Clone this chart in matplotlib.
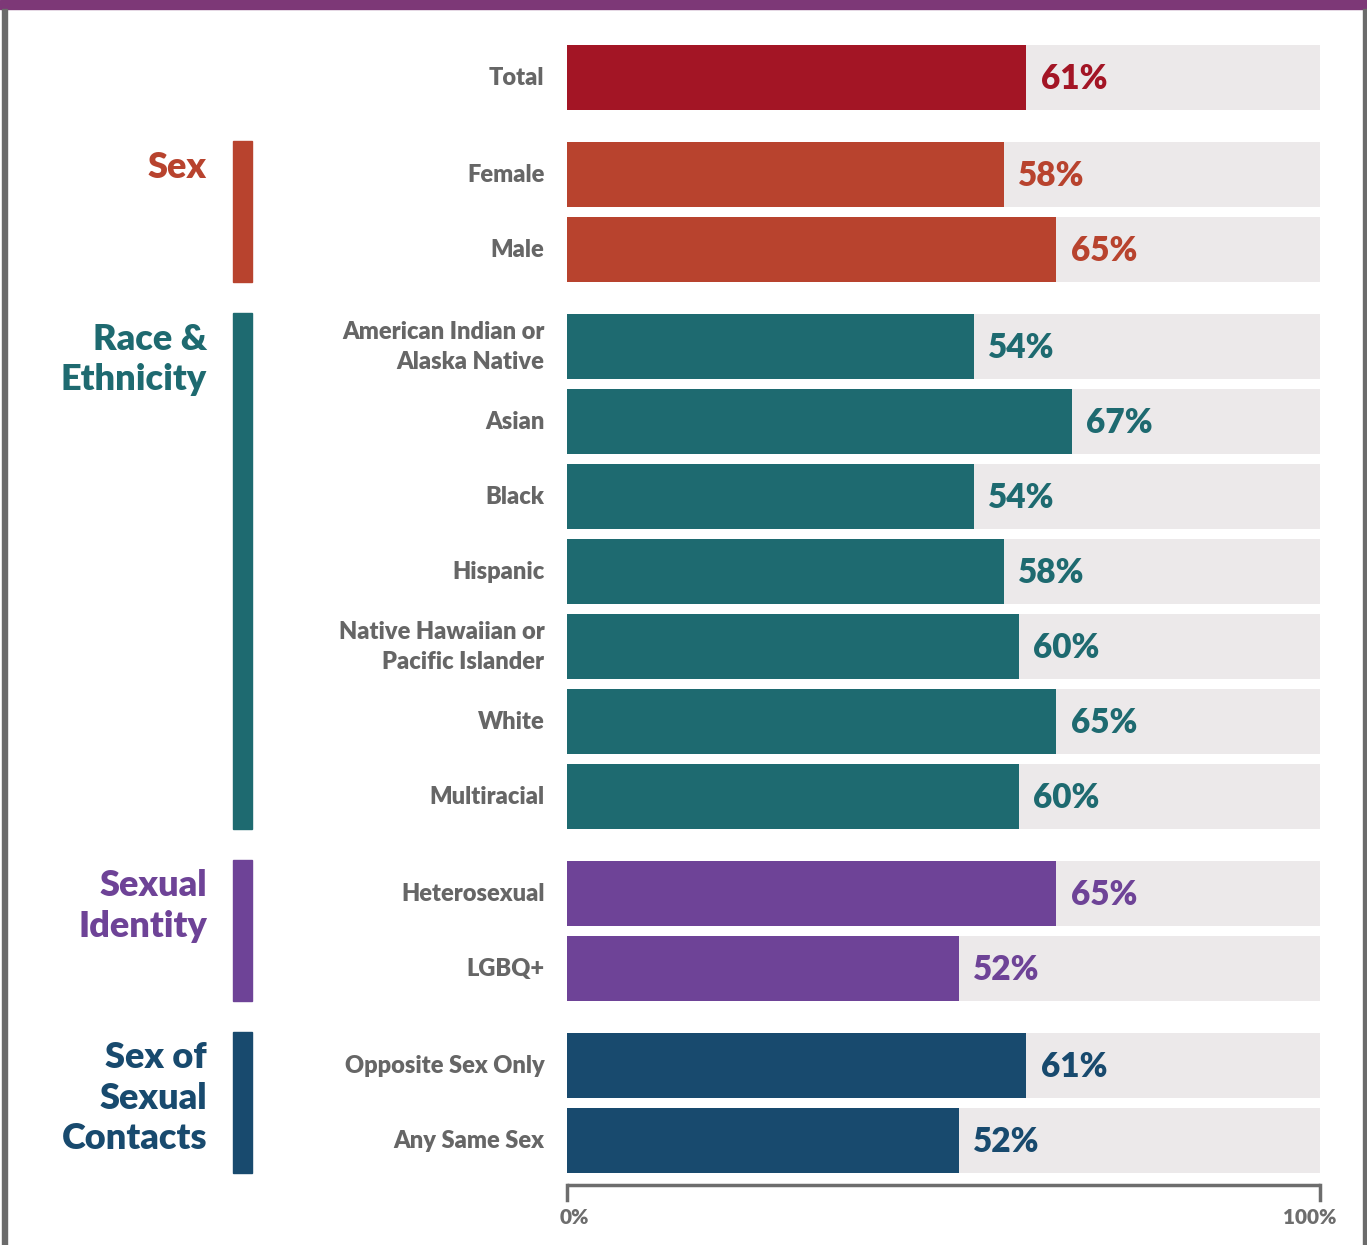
import matplotlib.pyplot as plt
from matplotlib.patches import Rectangle

# data
groups = ["", "Sex", "Race &\nEthnicity", "Sexual\nIdentity", "Sex of\nSexual\nContacts"]
group_colors = ["#A31525", "#B8432E", "#1E6A70", "#6E4397", "#184A6E"]
categories = [
    ["Total"],
    ["Female", "Male"],
    ["American Indian or\nAlaska Native", "Asian", "Black", "Hispanic",
     "Native Hawaiian or\nPacific Islander", "White", "Multiracial"],
    ["Heterosexual", "LGBQ+"],
    ["Opposite Sex Only", "Any Same Sex"],
]
values = [
    [61],
    [58, 65],
    [54, 67, 54, 58, 60, 65, 60],
    [65, 52],
    [61, 52],
]

W, H = 1367, 1245
fig = plt.figure(figsize=(W / 100, H / 100), dpi=100)
plt.rcParams['font.family'] = ['Lato', 'DejaVu Sans']

# background frame
bg = fig.add_axes([0, 0, 1, 1])
bg.set_xlim(0, W)
bg.set_ylim(H, 0)
bg.axis('off')
bg.add_patch(Rectangle((0, 0), W, 9, color="#7D3877"))
bg.add_patch(Rectangle((2, 9), 5, H, color="#6B6B6B"))
bg.add_patch(Rectangle((1363, 9), 4, H, color="#6B6B6B"))

# bar axes: x 0..100 mapped to pixels 567..1320, y in pixel rows
x0, x1 = 567, 1320
ax = fig.add_axes([x0 / W, 0, (x1 - x0) / W, 1])
ax.set_xlim(0, 100)
ax.set_ylim(H, 0)
ax.axis('off')

gray = "#666666"
bar_h = 65
step = 75
gap = 22
y = 77
for gi in range(len(groups)):
    col = group_colors[gi]
    ys = []
    for cat, v in zip(categories[gi], values[gi]):
        ax.barh(y, 100, height=bar_h, color="#ECE9EA")
        ax.barh(y, v, height=bar_h, color=col)
        ax.text(v + 1.9, y + 2, f"{v}%", color=col, fontsize=24, fontweight='heavy',
                va='center', ha='left')
        ax.text(-3, y + 1, cat, color=gray, fontsize=17, fontweight='heavy',
                va='center', ha='right', linespacing=1.4)
        ys.append(y)
        y += step
    y += gap
    if groups[gi]:
        top = ys[0] - bar_h / 2 - 1
        bot = ys[-1] + bar_h / 2
        bg.add_patch(Rectangle((233, top), 19, bot - top, color=col))
        bg.text(207, top + 10, groups[gi], color=col, fontsize=26, fontweight='heavy',
                ha='right', va='top', linespacing=1.27)

# bottom axis
axc = "#6D6D6D"
ay = 1185
ax.plot([0, 100], [ay, ay], color=axc, lw=2.5, clip_on=False, solid_capstyle='butt')
for t in [0, 100]:
    ax.plot([t, t], [ay, ay + 15], color=axc, lw=2.5, clip_on=False)
ax.text(1.0, 1217, "0%", color=axc, fontsize=15, fontweight='heavy', ha='center', va='center')
ax.text(98.7, 1217, "100%", color=axc, fontsize=15, fontweight='heavy', ha='center', va='center')

fig.savefig("out.png", dpi=100)
